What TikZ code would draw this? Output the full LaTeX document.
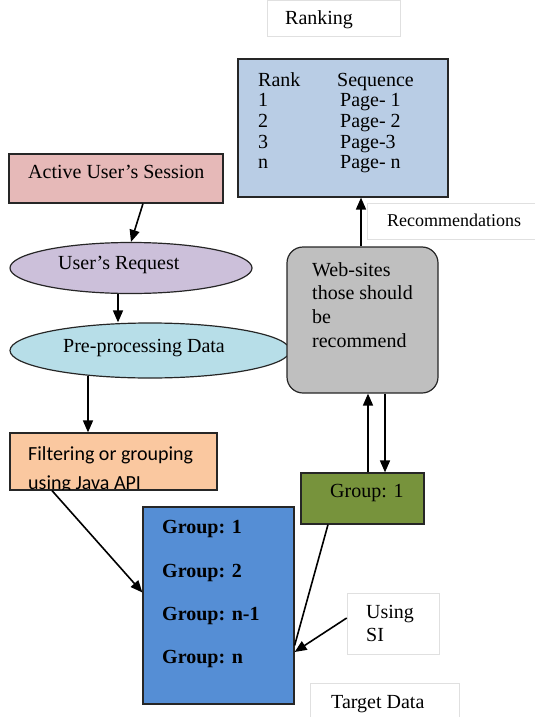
\documentclass[tikz,border=0pt]{standalone}
\usepackage{fontspec}
\setmainfont{Liberation Serif}
\newfontfamily\calibri{Carlito}
\usetikzlibrary{arrows.meta,shapes.geometric}
\definecolor{rankfill}{HTML}{B9CDE5}
\definecolor{sessfill}{HTML}{E6B9B8}
\definecolor{reqfill}{HTML}{CCC0DA}
\definecolor{prefill}{HTML}{B7DEE8}
\definecolor{filtfill}{HTML}{FAC8A0}
\definecolor{webfill}{HTML}{BFBFBF}
\definecolor{greenfill}{HTML}{77933C}
\definecolor{groupfill}{HTML}{558ED5}
\begin{document}
\begin{tikzpicture}[x=1pt,y=-1pt,
  box/.style={draw=black!85, line width=1.2pt, inner sep=0pt},
  lbl/.style={draw=black!12, line width=0.6pt, inner sep=0pt},
  txt/.style={inner sep=0pt, anchor=base west, font=\fontsize{20}{24}\selectfont},
  arr/.style={-{Triangle[length=12pt,width=10pt]}, line width=1.6pt},
  ln/.style={line width=1.6pt}]
\useasboundingbox (0,0) rectangle (535,717);

% label boxes
\node[lbl, minimum width=133pt, minimum height=36pt] (rankinglbl) at (333.5,18) {};
\node[txt] (rankingtxt) at (285,25) {Ranking};
\node[lbl, minimum width=178pt, minimum height=36pt] (recolbl) at (456,221) {};
\node[txt, font=\fontsize{18}{22}\selectfont] (recotxt) at (387,226) {Recommendations};

% rank table
\node[box, fill=rankfill, minimum width=210pt, minimum height=138pt] (rank) at (343,128) {};
\node[txt] (r0a) at (258,86) {Rank};
\node[txt] (r0b) at (337,86) {Sequence};
\node[txt] (r1a) at (258,106) {1};
\node[txt] (r1b) at (340,106) {Page- 1};
\node[txt] (r2a) at (258,127) {2};
\node[txt] (r2b) at (340,127) {Page- 2};
\node[txt] (r3a) at (258,148) {3};
\node[txt] (r3b) at (340,148) {Page-3};
\node[txt] (r4a) at (258,168) {n};
\node[txt] (r4b) at (340,168) {Page- n};

% session
\node[box, fill=sessfill, minimum width=214pt, minimum height=49pt] (session) at (116,178.5) {};
\node[txt] (sesstxt) at (28,178) {Active User’s Session};

% request
\node[box, ellipse, fill=reqfill, minimum width=242pt, minimum height=51pt] (request) at (131,268) {};
\node[txt] (reqtxt) at (58,269) {User’s Request};

% preprocessing
\node[box, ellipse, fill=prefill, minimum width=280pt, minimum height=55pt] (pre) at (150,350.5) {};
\node[txt] (pretxt) at (63,352) {Pre-processing Data};

% filtering
\node[box, fill=filtfill, minimum width=207pt, minimum height=57pt] (filter) at (113.5,461.5) {};
\begin{scope}
\clip (10,433) rectangle (217,489);
\node[txt, font=\calibri\fontsize{20}{24}\selectfont] (filt1) at (28,460) {Filtering or grouping};
\node[txt, font=\calibri\fontsize{20}{24}\selectfont] (filt2) at (28,489.5) {using Java API};
\end{scope}
\draw[box, fill=none] (filter.north west) rectangle (filter.south east);

% web-sites
\node[box, fill=webfill, rounded corners=16pt, minimum width=151pt, minimum height=146pt] (web) at (362.5,320) {};
\node[txt] (w1) at (312,276) {Web-sites};
\node[txt] (w2) at (312,299) {those should};
\node[txt] (w3) at (312,323) {be};
\node[txt] (w4) at (312,347) {recommend};

% green group
\node[box, fill=greenfill, minimum width=123pt, minimum height=51pt] (green) at (362.5,498.5) {};
\node[txt] (greentxt) at (330,497) {Group: 1};

% group box
\node[box, fill=groupfill, minimum width=151pt, minimum height=197pt] (group) at (218.5,605.5) {};
\node[txt, font=\fontsize{20}{24}\selectfont\bfseries] (g1) at (162,533) {Group: 1};
\node[txt, font=\fontsize{20}{24}\selectfont\bfseries] (g2) at (162,577) {Group: 2};
\node[txt, font=\fontsize{20}{24}\selectfont\bfseries] (g3) at (162,620) {Group: n-1};
\node[txt, font=\fontsize{20}{24}\selectfont\bfseries] (g4) at (162,663) {Group: n};

% using SI
\node[lbl, minimum width=92pt, minimum height=61pt] (usi) at (393,623.5) {};
\node[txt] (usi1) at (366,618) {Using};
\node[txt] (usi2) at (366,641) {SI};

% target data
\node[lbl, minimum width=149pt, minimum height=37pt] (target) at (384.5,701.5) {};
\node[txt] (targettxt) at (331,708) {Target Data};

% connectors
\draw[arr] ([xshift=-1.5pt]web.north) -- ([xshift=-1.5pt]web.north |- rank.south);
\draw[arr] ([xshift=27pt]session.south) -- (request.north);
\draw[arr] ([xshift=-13pt]request.south) -- ([xshift=-13pt]request.south |- pre.north);
\draw[arr] ([xshift=-62pt,yshift=3pt]pre.south) -- ([xshift=-62pt]pre.south |- filter.north);
\draw[arr] ([xshift=-61.5pt]filter.south) -- ([yshift=13pt]group.west);
\draw[arr] ([xshift=5.5pt]green.north) -- ([xshift=5.5pt]green.north |- web.south);
\draw[arr] ([xshift=22.5pt]web.south) -- ([xshift=22.5pt]web.south |- green.north);
\draw[ln] ([xshift=-34.5pt]green.south) -- ([yshift=-40pt]group.east);
\draw[arr] ([yshift=5.5pt]usi.west) -- ([yshift=-46.5pt]group.east);
\end{tikzpicture}
\end{document}
